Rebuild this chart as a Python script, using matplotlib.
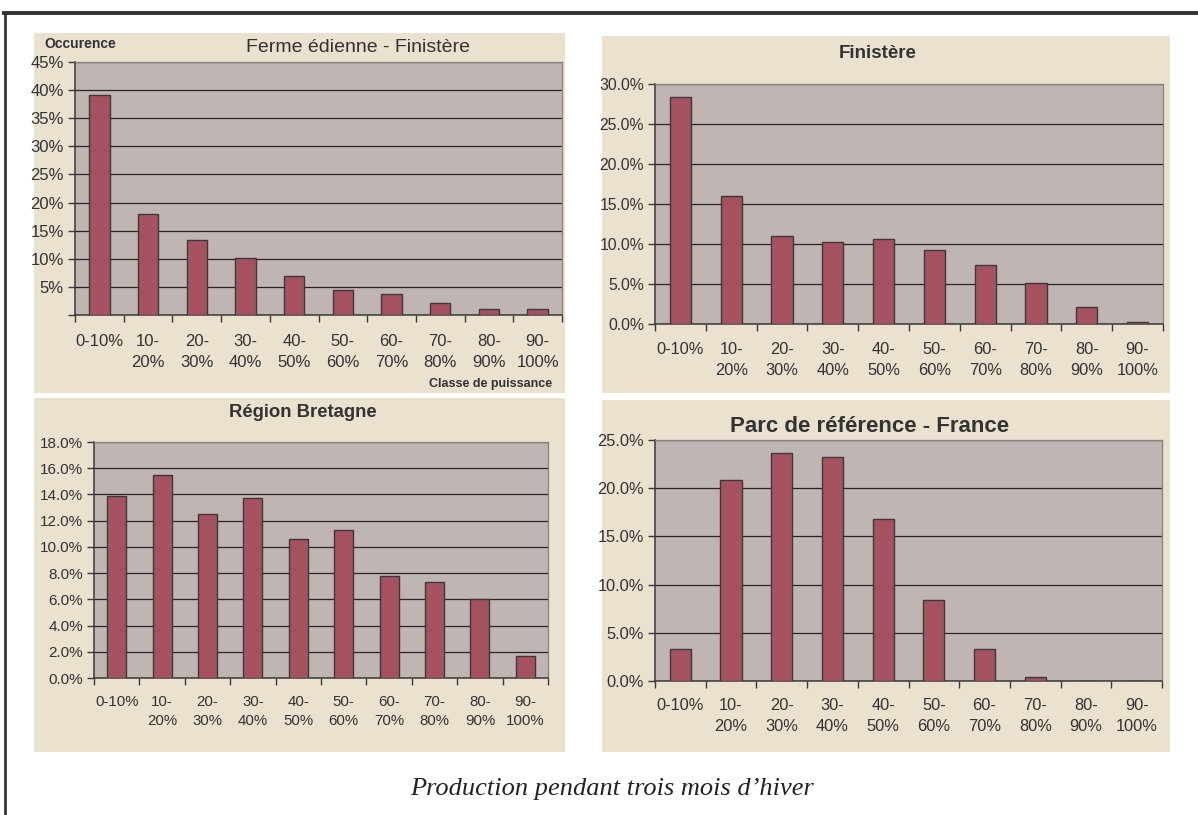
import matplotlib
matplotlib.use('Agg')
import matplotlib.pyplot as plt
from matplotlib.patches import Rectangle
from matplotlib.lines import Line2D
import numpy as np

W, H = 1198, 815

categories = ["0-10%", "10-\n20%", "20-\n30%", "30-\n40%", "40-\n50%",
              "50-\n60%", "60-\n70%", "70-\n80%", "80-\n90%", "90-\n100%"]
ferme_values = [39.2, 18.0, 13.3, 10.1, 6.9, 4.5, 3.8, 2.2, 1.1, 1.1]
finistere_values = [28.4, 16.0, 11.05, 10.2, 10.6, 9.2, 7.4, 5.07, 2.08, 0.2]
bretagne_values = [13.9, 15.45, 12.5, 13.7, 10.6, 11.3, 7.8, 7.3, 6.0, 1.64]
france_values = [3.27, 20.9, 23.7, 23.2, 16.8, 8.4, 3.27, 0.41, 0.0, 0.0]

ferme_yticks = [0, 5, 10, 15, 20, 25, 30, 35, 40, 45]
ferme_ylabels = ["", "5%", "10%", "15%", "20%", "25%", "30%", "35%", "40%", "45%"]
finistere_yticks = [0, 5, 10, 15, 20, 25, 30]
bretagne_yticks = [0, 2, 4, 6, 8, 10, 12, 14, 16, 18]
france_yticks = [0, 5, 10, 15, 20, 25]

BEIGE = '#EAE1CF'
PLOTBG = '#BFB5B3'
BAR = '#A5515F'
EDGE = '#3a3a3a'
TXT = '#333333'

NARROW = ['Liberation Sans Narrow', 'Liberation Sans', 'DejaVu Sans']
SANS = ['Liberation Sans', 'DejaVu Sans']

fig = plt.figure(figsize=(W / 100, H / 100), dpi=100)
fig.patch.set_facecolor('white')


def frect(l, t, r, b):
    return [l / W, 1 - b / H, (r - l) / W, (b - t) / H]


def bg(l, t, r, b):
    fig.add_artist(Rectangle((l / W, 1 - b / H), (r - l) / W, (b - t) / H,
                             transform=fig.transFigure, facecolor=BEIGE,
                             edgecolor='none', zorder=0))


def panel(box, values, yticks, ylabels, family, yfs, xfs, pad=12, ls=1.45):
    ax = fig.add_axes(frect(*box))
    ax.set_facecolor(PLOTBG)
    x = np.arange(len(values))
    ax.bar(x, values, width=0.42, color=BAR, edgecolor=EDGE, linewidth=1.0, zorder=3)
    ax.set_xlim(-0.5, len(values) - 0.5)
    ax.set_ylim(yticks[0], yticks[-1])
    ax.set_yticks(yticks)
    ax.set_yticklabels(ylabels, family=family, fontsize=yfs, color=TXT)
    ax.set_xticks(x)
    ax.set_xticklabels(categories, family=family, fontsize=xfs, color=TXT,
                       linespacing=ls, va='top')
    ax.set_xticks(np.arange(len(values) + 1) - 0.5, minor=True)
    ax.tick_params(axis='x', which='major', length=0, pad=pad)
    ax.tick_params(axis='x', which='minor', length=5, width=1, color=EDGE, direction='out')
    ax.tick_params(axis='y', length=5, width=1, color=EDGE, direction='out', pad=3)
    ax.yaxis.grid(True, color='#262626', linewidth=0.9, zorder=1)
    ax.set_axisbelow(True)
    for s in ['left', 'bottom']:
        ax.spines[s].set_color(EDGE)
        ax.spines[s].set_linewidth(1.1)
    for s in ['top', 'right']:
        ax.spines[s].set_color('#8a8080')
        ax.spines[s].set_linewidth(0.9)
    return ax


# outer frame
fig.add_artist(Line2D([4 / W, 1], [1 - 13 / H, 1 - 13 / H], transform=fig.transFigure,
                      color='#333333', linewidth=2.8))
fig.add_artist(Line2D([5 / W, 5 / W], [1 - 13 / H, 0], transform=fig.transFigure,
                      color='#333333', linewidth=2.0))

# backgrounds
bg(34, 33, 565, 393)
bg(602, 36, 1170, 393)
bg(34, 398, 565, 752)
bg(602, 400, 1170, 752)

# panel 1
ax1 = panel((75, 62, 562, 315), ferme_values, ferme_yticks, ferme_ylabels, NARROW,
            12, 12, pad=14, ls=1.45)
fig.text(358 / W, 1 - 48 / H, "Ferme édienne - Finistère", family=NARROW, fontsize=14,
         color=TXT, ha='center', va='center')
fig.text(44 / W, 1 - 44 / H, "Occurence", family=NARROW, fontsize=10, weight='bold',
         color=TXT, ha='left', va='center')
fig.text(491 / W, 1 - 384 / H, "Classe de puissance", family=NARROW, fontsize=9,
         weight='bold', color=TXT, ha='center', va='center')

# panel 2
ax2 = panel((655, 84, 1163, 324), finistere_values, finistere_yticks,
            [f"{v:.1f}%" for v in finistere_yticks], SANS, 11.3, 11.8, pad=13, ls=1.5)
fig.text(878 / W, 1 - 53 / H, "Finistère", family=SANS, fontsize=13.5, weight='bold',
         color=TXT, ha='center', va='center')

# panel 3
ax3 = panel((94, 442, 548, 678), bretagne_values, bretagne_yticks,
            [f"{v:.1f}%" for v in bretagne_yticks], SANS, 11, 10.8, pad=12, ls=1.5)
fig.text(303 / W, 1 - 413 / H, "Région Bretagne", family=SANS, fontsize=13.3, weight='bold',
         color=TXT, ha='center', va='center')

# panel 4
ax4 = panel((655, 440, 1162, 681), france_values, france_yticks,
            [f"{v:.1f}%" for v in france_yticks], SANS, 11.8, 11.8, pad=12, ls=1.55)
fig.text(870 / W, 1 - 427 / H, "Parc de référence - France", family=SANS, fontsize=16,
         weight='bold', color=TXT, ha='center', va='center')

# caption
fig.text(612 / W, 1 - 789 / H, "Production pendant trois mois d’hiver",
         family=['Liberation Serif', 'DejaVu Serif'], style='italic', fontsize=19,
         color='#222222', ha='center', va='center')

fig.savefig('out.png', dpi=100, facecolor='white')
